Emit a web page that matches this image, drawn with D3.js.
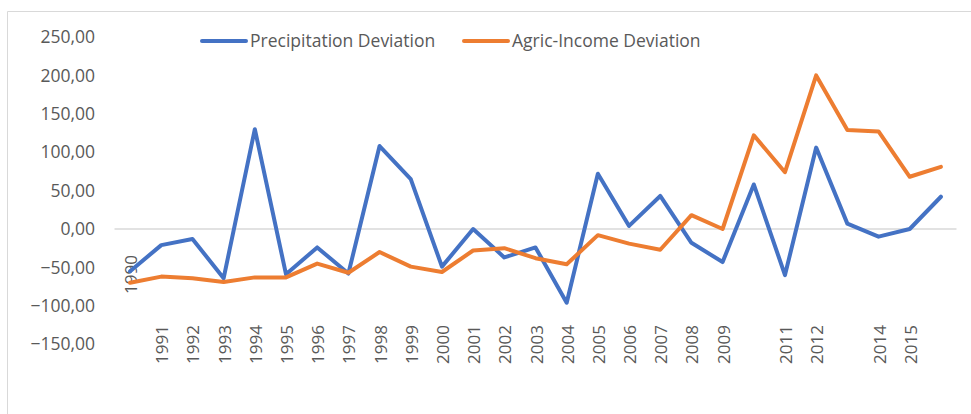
<!DOCTYPE html>
<html>
<head>
<meta charset="utf-8">
<style>
  body { margin: 0; background: #ffffff; }
  text { font-family: "Open Sans", sans-serif; fill: #595959; }
</style>
</head>
<body>
<div id="chart"></div>

<script src="https://d3js.org/d3.v7.min.js"></script>
<script>
// Data
var years = d3.range(1990, 2017);
var yearLabels = ["1990", "1991", "1992", "1993", "1994", "1995", "1996", "1997", "1998", "1999",
    "2000", "2001", "2002", "2003", "2004", "2005", "2006", "2007", "2008", "2009",
    "", "2011", "2012", "", "2014", "2015", ""];
var precipitation = [-55, -21, -13, -64, 130, -59, -24, -58, 108, 65,
    -49, 0, -37, -24, -96, 72, 4, 43, -18, -43,
    58, -60, 106, 7, -10, 0, 42];
var agricIncome = [-70, -62, -64, -69, -63, -63, -45, -57, -30, -49,
    -56, -28, -25, -38, -46, -8, -19, -27, 18, 0,
    122, 74, 200, 129, 127, 68, 81];
var yTicks = [-150, -100, -50, 0, 50, 100, 150, 200, 250];
var seriesNames = ["Precipitation Deviation", "Agric-Income Deviation"];
var colors = ["#4472C4", "#ED7D31"];

var width = 971;
var height = 414;

var svg = d3.select("#chart")
    .append("svg")
    .attr("width", width)
    .attr("height", height);

// chart border (only top and left edges fall inside the picture)
svg.append("path")
    .attr("d", "M7.5,414V11.5H971")
    .attr("fill", "none")
    .attr("stroke", "#D9D9D9")
    .attr("stroke-width", 1);

// Scales
var x = d3.scaleBand()
    .domain(years)
    .range([114.5, 956.5]);

var y = d3.scaleLinear()
    .domain([-150, 250])
    .range([344.2, 37]);

var fmt = function(d) { return d3.format(".2f")(d).replace(".", ","); };

// y axis labels
var yAxis = svg.append("g")
    .attr("transform", "translate(95,0)")
    .call(d3.axisLeft(y).tickValues(yTicks).tickFormat(fmt).tickSize(0).tickPadding(0));
yAxis.select(".domain").remove();
yAxis.selectAll("text")
    .attr("font-family", "Open Sans")
    .attr("font-size", 17.5)
    .attr("fill", "#595959");

// zero line
svg.append("line")
    .attr("x1", x.range()[0])
    .attr("x2", x.range()[1])
    .attr("y1", y(0))
    .attr("y2", y(0))
    .attr("stroke", "#D9D9D9")
    .attr("stroke-width", 1.5);

// x axis labels, rotated
var xLab = svg.append("g");
xLab.selectAll("text")
    .data(years)
    .enter()
    .append("text")
    .attr("transform", function(d, i) {
        var top = i === 0 ? 255 : 325;   // the 1990 label sits higher in the original
        return "translate(" + (x(d) + x.bandwidth() / 2 + 7) + "," + top + ") rotate(-90)";
    })
    .attr("text-anchor", "end")
    .attr("font-size", 17)
    .text(function(d, i) { return yearLabels[i]; });

// Lines
var line = d3.line()
    .x(function(d, i) { return x(years[i]) + x.bandwidth() / 2; })
    .y(function(d) { return y(d); });

[precipitation, agricIncome].forEach(function(series, k) {
    svg.append("path")
        .datum(series)
        .attr("fill", "none")
        .attr("stroke", colors[k])
        .attr("stroke-width", 4)
        .attr("stroke-linejoin", "round")
        .attr("stroke-linecap", "round")
        .attr("d", line);
});

// Legend
var legendX = [202, 464];
var legend = svg.append("g");
seriesNames.forEach(function(name, k) {
    legend.append("line")
        .attr("x1", legendX[k])
        .attr("x2", legendX[k] + 44)
        .attr("y1", 41)
        .attr("y2", 41)
        .attr("stroke", colors[k])
        .attr("stroke-width", 4)
        .attr("stroke-linecap", "round");
    legend.append("text")
        .attr("x", legendX[k] + 48)
        .attr("y", 41)
        .attr("dy", "0.35em")
        .attr("font-size", 17.5)
        .text(name);
});
</script>
</body>
</html>
